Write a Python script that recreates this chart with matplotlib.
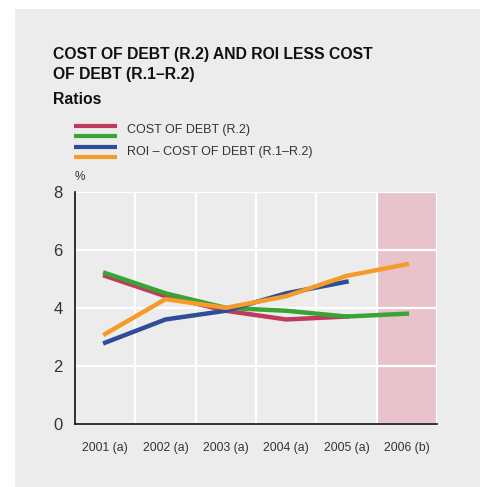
import matplotlib
matplotlib.use("Agg")
import matplotlib.pyplot as plt
from matplotlib.patches import Rectangle
from matplotlib.lines import Line2D

plt.rcParams['font.family'] = ['Liberation Sans', 'DejaVu Sans']

years = ["2001 (a)", "2002 (a)", "2003 (a)", "2004 (a)", "2005 (a)", "2006 (b)"]
cost_of_debt_a = [5.1, 4.4, 3.9, 3.6, 3.7]
cost_of_debt_b = [5.2, 4.5, 4.0, 3.9, 3.7, 3.8]
roi_less_cod_a = [2.8, 3.6, 3.9, 4.5, 4.9]
roi_less_cod_b = [3.1, 4.3, 4.0, 4.4, 5.1, 5.5]
y_ticks = [0, 2, 4, 6, 8]
forecast_index = 5

RED = "#bf3a5c"
GREEN = "#3aa336"
BLUE = "#2f4d97"
ORANGE = "#f49b2a"
PINK = "#e8c3cb"
PANEL = "#ececec"

W, H = 480, 487
fig = plt.figure(figsize=(W / 100, H / 100), dpi=100)
fig.patch.set_facecolor("white")
fig.patches.append(Rectangle((15 / W, 0), 1 - 15 / W, 1 - 9 / H,
                             transform=fig.transFigure, facecolor=PANEL,
                             edgecolor="none", zorder=-10))

# Titles
fig.text(53 / W, 1 - 47 / H, "COST OF DEBT (R.2) AND ROI LESS COST\nOF DEBT (R.1\u2013R.2)",
         fontsize=11.3, fontweight="bold", va="top", ha="left", linespacing=1.45,
         color="#111111")
fig.text(53 / W, 1 - 92 / H, "Ratios", fontsize=11.3, fontweight="bold",
         va="top", ha="left", color="#111111")

# Legend drawn as paired swatches
def swatch(y_px, color):
    fig.lines.append(Line2D([74 / W, 117 / W], [1 - y_px / H, 1 - y_px / H],
                            transform=fig.transFigure, color=color, lw=3,
                            solid_capstyle="butt"))

swatch(125.5, RED)
swatch(136, GREEN)
swatch(146.5, BLUE)
swatch(156.5, ORANGE)
fig.text(127 / W, 1 - 130.5 / H, "COST OF DEBT (R.2)", fontsize=9, va="center",
         ha="left", color="#333333")
fig.text(127 / W, 1 - 151.5 / H, "ROI \u2013 COST OF DEBT (R.1\u2013R.2)", fontsize=9,
         va="center", ha="left", color="#333333")

# Plot area
left, right, top, bottom = 75, 437, 191.7, 424
ax = fig.add_axes([left / W, 1 - bottom / H, (right - left) / W, (bottom - top) / H])
ax.set_facecolor(PANEL)
ax.set_xlim(-0.5, len(years) - 0.5)
ax.set_ylim(0, 8)

ax.axvspan(forecast_index - 0.5, forecast_index + 0.5, color=PINK, lw=0, zorder=0.3)

ax.set_yticks(y_ticks)
ax.set_yticklabels([str(v) for v in y_ticks], fontsize=12, color="#333333")
ax.set_xticks(range(len(years)))
ax.set_xticklabels(years, fontsize=8.8, color="#333333")
ax.set_xticks([i + 0.5 for i in range(len(years))], minor=True)
ax.tick_params(axis="both", which="both", length=0)
ax.tick_params(axis="y", pad=9)
ax.tick_params(axis="x", pad=13)

ax.set_axisbelow(True)
ax.grid(axis="y", which="major", color="white", lw=1.6)
ax.grid(axis="x", which="minor", color="white", lw=1.6)
ax.grid(axis="x", which="major", visible=False)

for s in ["top", "right"]:
    ax.spines[s].set_visible(False)
for s in ["left", "bottom"]:
    ax.spines[s].set_color("#111111")
    ax.spines[s].set_linewidth(1.2)

lw = 3.2
ax.plot(range(len(cost_of_debt_a)), cost_of_debt_a, color=RED, lw=lw, zorder=3)
ax.plot(range(len(cost_of_debt_b)), cost_of_debt_b, color=GREEN, lw=lw, zorder=4)
ax.plot(range(len(roi_less_cod_a)), roi_less_cod_a, color=BLUE, lw=lw, zorder=5)
ax.plot(range(len(roi_less_cod_b)), roi_less_cod_b, color=ORANGE, lw=lw, zorder=6)

fig.text(75 / W, 1 - 177 / H, "%", fontsize=8.5, ha="left", va="center", color="#333333")

fig.savefig("out.png", dpi=100)
